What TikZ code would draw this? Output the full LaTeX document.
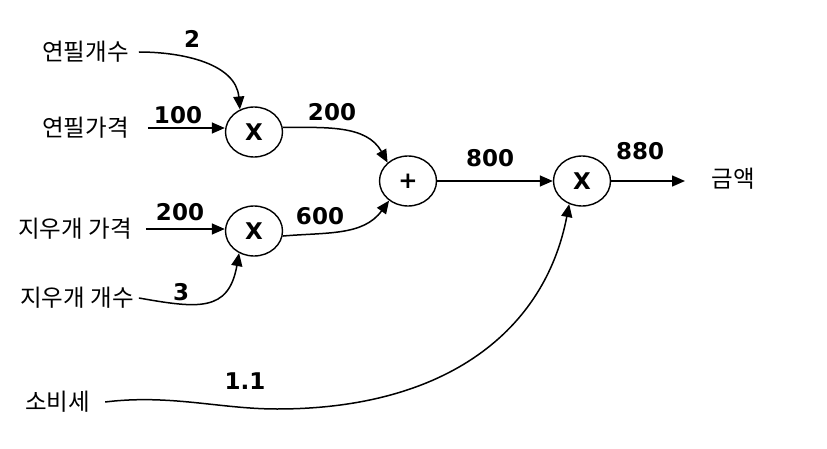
\documentclass[tikz,border=0pt]{standalone}
\usepackage{fontspec}
\setmainfont{DejaVu Sans}
\newfontfamily\kr{Noto Sans CJK KR}
\usetikzlibrary{arrows.meta,positioning,shapes.geometric}

\begin{document}
\begin{tikzpicture}[
    x=1pt,y=1pt,
    op/.style={draw,ellipse,line width=1.4pt,minimum width=57pt,minimum height=50pt,inner sep=0pt,font=\bfseries\fontsize{23}{23}\selectfont},
    var/.style={font=\kr\fontsize{23.5}{23.5}\selectfont,inner sep=5pt},
    val/.style={font=\bfseries\fontsize{23}{23}\selectfont,inner sep=0pt},
    arrow/.style={-{Triangle[length=13pt,width=11pt]},line width=1.5pt}
]
\useasboundingbox (0,0) rectangle (827,448);
% inputs
\node[var] (pc) at (85.5,396) {연필개수};
\node[var] (pp) at (85.5,320) {연필가격};
\node[var] (ep) at (75,219) {지우개 가격};
\node[var] (ec) at (77,150) {지우개 개수};
\node[var] (tax) at (57.5,46) {소비세};
% operations
\node[op] (m1) at (254,316) {X};
\node[op] (m2) at (254,217) {X};
\node[op] (plus) at (408,267) {+};
\node[op] (m3) at (582,267) {X};
\coordinate (out) at (685,267);
\node[var] (amt) at (733,269) {금액};
% values
\node[val] (v2) at (192,409) {2};
\node[val] (v100) at (178,333) {100};
\node[val] (v200a) at (332,336) {200};
\node[val] (v200b) at (180,236) {200};
\node[val] (v3) at (181,156) {3};
\node[val] (v600) at (320,232) {600};
\node[val] (v800) at (490,290) {800};
\node[val] (v880) at (640,297) {880};
\node[val] (v11) at (245,67) {1.1};
% edges
\draw[arrow] ([xshift=5pt]pc.east) to[out=0,in=95] (m1.122);
\draw[arrow] ([xshift=14pt]pp.east) -- (m1.west |- pp.east);
\draw[arrow] (m1.9) to[out=0,in=119] (plus.138);
\draw[arrow] ([xshift=9pt]ep.east) -- (m2.west |- ep.east);
\draw[arrow] (ec.east) to[out=-10,in=260,looseness=1.4] (m2.236);
\draw[arrow] (m2.-10) to[out=5,in=234] (plus.226);
\draw[arrow] (plus) -- (m3);
\draw[arrow] (m3) -- (out);
\draw[arrow] ([xshift=10pt]tax.east) .. controls (170,54) and (220,39) .. (277,39)
    .. controls (447,39) and (545,118) .. (m3.241);
\end{tikzpicture}
\end{document}
